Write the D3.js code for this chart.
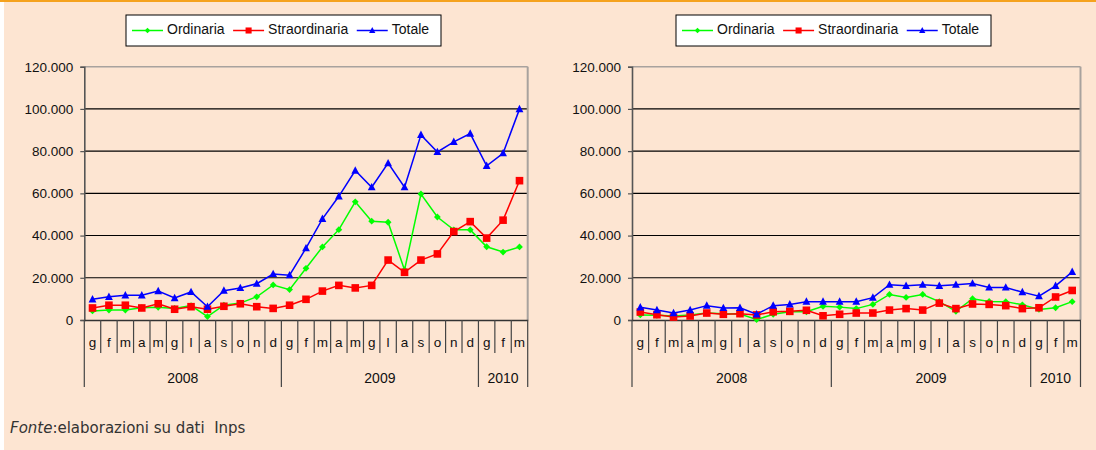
<!DOCTYPE html>
<html><head><meta charset="utf-8">
<script src="https://cdn.jsdelivr.net/npm/d3@7"></script>
<style>
html,body{margin:0;padding:0;background:#fff;}
svg{display:block;}
</style></head>
<body>
<svg id="c" width="1096" height="450"></svg>
<script>
// ---- data ----
const months = ["g","f","m","a","m","g","l","a","s","o","n","d",
                "g","f","m","a","m","g","l","a","s","o","n","d",
                "g","f","m"];
const years = ["2008","2009","2010"];
const yearMonths = [12,12,3];
const seriesNames = ["Ordinaria","Straordinaria","Totale"];
const yTicks = [0,20000,40000,60000,80000,100000,120000];

const leftOrdinaria = [4300,4700,4700,5800,6000,5500,6800,1600,7000,8000,11000,16600,
                       14400,24500,34600,42800,56000,46800,46300,23700,59700,48800,42700,42700,
                       34700,32200,34600];
const leftStraordinaria = [5700,7000,7000,5700,7700,5100,6300,5100,6500,7700,6300,5500,
                           7000,9800,13700,16400,15200,16400,28400,22600,28400,31300,41900,46600,
                           38800,47300,66000];
const leftTotale = [9800,11000,11700,11700,13700,10400,13300,6300,13900,15200,17200,21800,
                    21200,34000,47900,58600,70800,62900,74300,62900,87700,79600,84400,88300,
                    73000,79000,99900];

const rightOrdinaria = [2400,2200,1900,2400,3300,3000,2800,200,2700,3900,3900,6500,
                        6100,5400,7400,12100,10700,12100,8700,4100,10100,8800,8700,7200,
                        5000,5800,8700];
const rightStraordinaria = [3800,2500,1400,1900,3300,2700,3000,2400,3900,4100,4600,2000,
                            2700,3300,3300,4700,5400,4700,8000,5400,7600,7400,6800,5400,
                            5800,10900,14000];
const rightTotale = [6000,4700,3300,4700,6800,5700,5800,2700,6800,7400,8700,8700,
                     8700,8700,10600,16700,16200,16700,16200,16700,17300,15400,15400,13200,
                     11300,16200,22800];

// ---- style ----
const colors = ["#00ff00","#ff0000","#0000ff"];
const FONT = "'Liberation Sans', Arial, sans-serif";
const BG = "#fde5d2";

const svg = d3.select("#c");
svg.append("rect").attr("x",0).attr("y",0).attr("width",1096).attr("height",450).attr("fill","#fff");
svg.append("rect").attr("x",4).attr("y",0).attr("width",1092).attr("height",450).attr("fill",BG);
svg.append("rect").attr("x",0).attr("y",0).attr("width",1096).attr("height",2).attr("fill","#f5a21e");

const itFmt = d3.formatLocale({decimal:",", thousands:".", grouping:[3], currency:["€",""]}).format(",d");

const markerPath = [
  r => `M0,${-r}L${r},0L0,${r}L${-r},0Z`,                 // diamond
  r => `M${-r},${-r}H${r}V${r}H${-r}Z`,                    // square
  r => `M0,${-r*1.1}L${r},${r*0.8}L${-r},${r*0.8}Z`        // triangle
];
const markerSize = [3.4, 3.8, 3.9];

function drawChart(x0, x1, legendX, data) {
  const yTop = 66.7, yBot = 320;
  const g = svg.append("g");
  const x = d3.scaleBand().domain(d3.range(months.length)).range([x0, x1]).padding(0);
  const y = d3.scaleLinear().domain([0,120000]).range([yBot, yTop]);

  // gridlines
  g.selectAll(".grid").data(yTicks.filter(v => v > 0 && v < 120000)).enter().append("line")
    .attr("x1", x0).attr("x2", x1).attr("y1", d => y(d)).attr("y2", d => y(d))
    .attr("stroke", "#000").attr("stroke-width", 1.1);
  // top & right border
  g.append("line").attr("x1", x0).attr("x2", x1).attr("y1", y(120000)).attr("y2", y(120000))
    .attr("stroke", "#a8a29e").attr("stroke-width", 1.5);
  g.append("line").attr("x1", x1).attr("x2", x1).attr("y1", y(120000)).attr("y2", yBot)
    .attr("stroke", "#a8a29e").attr("stroke-width", 2);

  // y axis
  const ya = g.append("g").attr("transform", `translate(${x0},0)`)
    .call(d3.axisLeft(y).tickValues(yTicks).tickFormat(itFmt).tickSize(4).tickPadding(7));
  ya.select(".domain").attr("stroke", "#555").attr("stroke-width", 1.6);
  ya.selectAll(".tick line").attr("stroke", "#555").attr("stroke-width", 1.2);
  ya.selectAll("text").attr("font-family", FONT).attr("font-size", 13.5).attr("fill", "#111");

  // x axis
  const xa = g.append("g").attr("transform", `translate(0,${yBot})`)
    .call(d3.axisBottom(x).tickFormat(i => months[i]).tickSize(0).tickPadding(17));
  xa.select(".domain").attr("stroke", "#333").attr("stroke-width", 1.6);
  xa.selectAll("text").attr("font-family", FONT).attr("font-size", 13.5).attr("fill", "#111");

  // month separators
  const bounds = d3.range(months.length + 1);
  const yearBounds = new Set(d3.cumsum([0, ...yearMonths]));
  g.selectAll(".sep").data(bounds).enter().append("line")
    .attr("x1", i => i < months.length ? x(i) : x1)
    .attr("x2", i => i < months.length ? x(i) : x1)
    .attr("y1", yBot)
    .attr("y2", i => yearBounds.has(i) ? 387 : 353)
    .attr("stroke", "#444").attr("stroke-width", 1.2);

  // year labels
  let acc = 0;
  years.forEach((yr, k) => {
    const a = x(acc), b = (acc + yearMonths[k] < months.length) ? x(acc + yearMonths[k]) : x1;
    g.append("text").attr("x", (a + b) / 2).attr("y", 379).attr("text-anchor", "middle")
      .attr("dominant-baseline", "middle")
      .attr("font-family", FONT).attr("font-size", 14).attr("fill", "#111").text(yr);
    acc += yearMonths[k];
  });

  // series
  const line = d3.line().x((d, i) => x(i) + x.bandwidth() / 2).y(d => y(d));
  data.forEach((vals, s) => {
    g.append("path").attr("d", line(vals)).attr("fill", "none")
      .attr("stroke", colors[s]).attr("stroke-width", 1.5);
    g.selectAll(".m" + s).data(vals).enter().append("path")
      .attr("transform", (d, i) => `translate(${x(i) + x.bandwidth() / 2},${y(d)})`)
      .attr("d", markerPath[s](markerSize[s])).attr("fill", colors[s]);
  });

  // legend
  const lg = svg.append("g").attr("transform", `translate(${legendX},15)`);
  lg.append("rect").attr("x", 0).attr("y", 0).attr("width", 315).attr("height", 31)
    .attr("fill", "#fff").attr("stroke", "#000").attr("stroke-width", 1);
  let cx = 6;
  seriesNames.forEach((nm, s) => {
    lg.append("line").attr("x1", cx).attr("x2", cx + 31).attr("y1", 15.5).attr("y2", 15.5)
      .attr("stroke", colors[s]).attr("stroke-width", 1.5);
    lg.append("path").attr("transform", `translate(${cx + 15.5},15.5)`)
      .attr("d", markerPath[s](markerSize[s] * 0.8)).attr("fill", colors[s]);
    const t = lg.append("text").attr("x", cx + 35).attr("y", 15.5).attr("dominant-baseline", "middle")
      .attr("font-family", FONT).attr("font-size", 14).attr("fill", "#111").text(nm);
    cx += 35 + t.node().getComputedTextLength() + 8.5;
  });
}

drawChart(84.3, 527.7, 126, [leftOrdinaria, leftStraordinaria, leftTotale]);
drawChart(632, 1080.5, 676, [rightOrdinaria, rightStraordinaria, rightTotale]);

// source note
const note = svg.append("text").attr("x", 10).attr("y", 428).attr("dominant-baseline", "middle")
  .attr("font-family", "'DejaVu Sans', sans-serif").attr("font-size", 15).attr("fill", "#333");
note.append("tspan").attr("font-style", "italic").text("Fonte");
note.append("tspan").text(":elaborazioni su dati \u00a0Inps");
</script>
</body></html>
